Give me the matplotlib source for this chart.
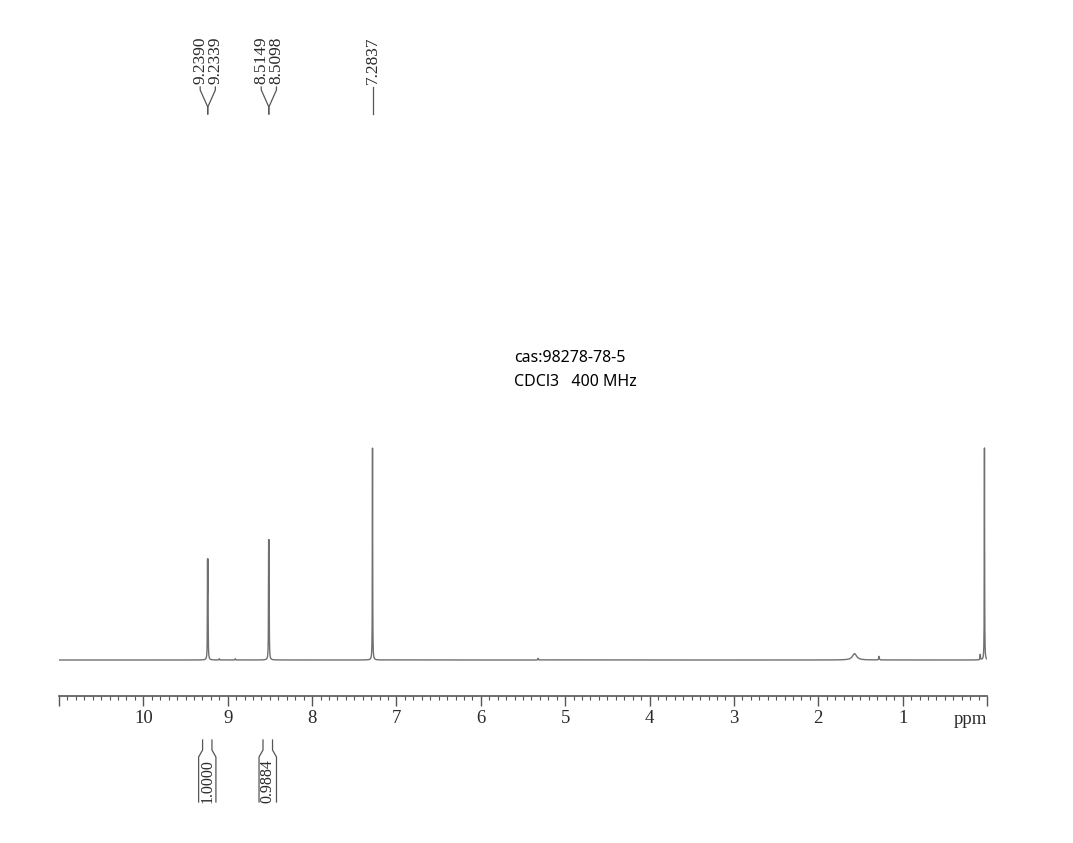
import numpy as np
import matplotlib
matplotlib.use('Agg')
import matplotlib.pyplot as plt
import matplotlib.transforms as mtransforms
from matplotlib.ticker import MultipleLocator

plt.rcParams['font.family'] = ['Liberation Serif', 'DejaVu Serif']

# peak list (ppm, relative height, half width)
peak_ppm = [9.2390, 9.2339, 9.10, 8.91, 8.5149, 8.5098, 7.2837, 5.32, 1.57, 1.28, 0.08, 0.03]
peak_height = [0.42, 0.42, 0.006, 0.006, 0.50, 0.50, 1.0, 0.008, 0.03, 0.017, 0.025, 1.0]
peak_hwhm = [0.002, 0.002, 0.003, 0.003, 0.002, 0.002, 0.002, 0.003, 0.03, 0.004, 0.003, 0.002]

# labelled multiplets
label_groups = [['9.2390', '9.2339'], ['8.5149', '8.5098'], ['7.2837']]
group_center = [9.2365, 8.5124, 7.2837]

# integrals
integ_lo = [9.187, 8.469]
integ_hi = [9.298, 8.582]
integ_val = ['1.0000', '0.9884']

tick_vals = list(range(0, 12))
tick_text = ['' if t in (0, 11) else str(t) for t in tick_vals]

W, H = 1073, 843
fig = plt.figure(figsize=(W / 100, H / 100), dpi=100)
fig.patch.set_facecolor('white')

# axes: axis line at y=696 px, top at 30 px
ax = fig.add_axes([59 / W, 1 - 696 / H, (987 - 59) / W, (696 - 30) / H])

ppm = np.linspace(0, 11, 44001)
spec = np.zeros_like(ppm)
for p, h, w in zip(peak_ppm, peak_height, peak_hwhm):
    spec += h / (1 + ((ppm - p) / w) ** 2)

ax.plot(ppm, spec, color='#707070', lw=1.0)
ax.set_xlim(11, 0)
ax.set_ylim(-36 / 212, (660 - 30) / 212)

for s in ['left', 'right', 'top']:
    ax.spines[s].set_visible(False)
ax.spines['bottom'].set_color('#555555')
ax.spines['bottom'].set_linewidth(1.2)
ax.set_yticks([])
ax.set_xticks(tick_vals)
ax.set_xticklabels(tick_text)
ax.xaxis.set_minor_locator(MultipleLocator(0.1))
ax.tick_params(axis='x', which='major', direction='out', length=7, width=1.0,
               color='#555555', labelsize=13.5, labelcolor='#2a2a2a', pad=3)
ax.tick_params(axis='x', which='minor', direction='out', length=3, width=0.8,
               color='#555555')

def fy(py):
    return 1 - py / H

tr = mtransforms.blended_transform_factory(ax.transData, fig.transFigure)

ax.text(0.195, fy(720), 'ppm', transform=tr, ha='center', va='center',
        fontsize=13.5, color='#2a2a2a')

# peak labels with connectors
for labels, xc in zip(label_groups, group_center):
    n = len(labels)
    offs = (np.arange(n) - (n - 1) / 2) * 0.18
    for lab, off in zip(labels, offs):
        xl = xc - off
        ax.text(xl, fy(84), lab, transform=tr, rotation=90, ha='center', va='bottom',
                fontsize=12.5, color='#2a2a2a')
        ax.plot([xl, xl, xc, xc], [fy(87), fy(90), fy(107), fy(114)], transform=tr,
                color='#555555', lw=0.9, clip_on=False)

# integral brackets
for lo, hi, val in zip(integ_lo, integ_hi, integ_val):
    for x_in, x_out in [(hi, hi + 0.047), (lo, lo - 0.047)]:
        ax.plot([x_in, x_in, x_out, x_out], [fy(740), fy(750), fy(757), fy(802)],
                transform=tr, color='#555555', lw=0.9, clip_on=False)
    ax.text((lo + hi) / 2, fy(781), val, transform=tr, rotation=90, ha='center',
            va='center', fontsize=11.5, color='#2a2a2a')

fig.text(514 / W, fy(362), 'cas:98278-78-5', family=['Noto Sans', 'DejaVu Sans'],
         fontsize=11.5, ha='left', va='baseline', color='black')
fig.text(514 / W, fy(386), 'CDCl3   400 MHz', family=['Noto Sans', 'DejaVu Sans'],
         fontsize=11.5, ha='left', va='baseline', color='black')

fig.savefig('out.png', dpi=100)
